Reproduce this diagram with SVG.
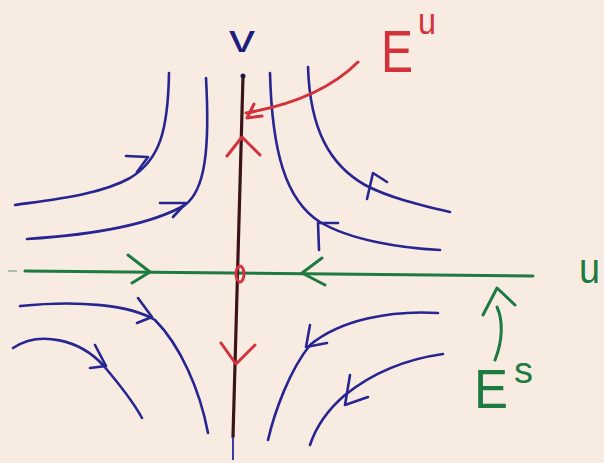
<svg xmlns="http://www.w3.org/2000/svg" width="604" height="463" viewBox="0 0 604 463">
<style>
.bl{fill:none;stroke:#272591;stroke-width:2.6;stroke-linecap:round;stroke-linejoin:round}
.rd{fill:none;stroke:#d3323c;stroke-width:3;stroke-linecap:round;stroke-linejoin:round}
.gr{fill:none;stroke:#1d7a40;stroke-width:3;stroke-linecap:round;stroke-linejoin:round}
.ax{fill:none;stroke:#3a1418;stroke-width:3.2;stroke-linecap:round}
.t{font-family:"Liberation Sans",Arial,sans-serif}
</style>
<rect width="604" height="463" fill="#f8ece2"/>
<g id="axes">
  <line class="gr" x1="25" y1="271" x2="533" y2="276"/>
  <line x1="8" y1="271" x2="17" y2="271" stroke="#1d7a40" stroke-width="1.5" opacity="0.5"/>
  <line class="ax" x1="243" y1="76" x2="233" y2="437"/>
  <line x1="233" y1="437" x2="233" y2="460" stroke="#3a3aa0" stroke-width="2"/>
  <circle cx="243" cy="76" r="2.5" fill="#1a1a40"/>
  <ellipse cx="240" cy="274" rx="4" ry="8" fill="none" stroke="#d3323c" stroke-width="3"/>
</g>
<g id="axis-arrows">
  <polyline class="rd" points="227,156 242,137 260,155"/>
  <polyline class="rd" points="221,343 236,364 255,345"/>
  <polyline class="gr" points="128,255 150,272 132,283"/>
  <polyline class="gr" points="322,258 302,273 325,285"/>
</g>
<g id="trajectories">
  <path class="bl" d="M169,73 C168,130 160,160 130,178 C100,195 50,200 15,205"/>
  <polyline class="bl" points="126,156 148,157 137,172"/>
  <path class="bl" d="M206,78 C210,150 205,190 185,205 C150,225 90,235 27,239"/>
  <polyline class="bl" points="160,203 186,203 173,217"/>
  <path class="bl" d="M270,73 C272,150 285,200 320,222 C350,240 400,248 440,250"/>
  <polyline class="bl" points="338,223 318,223 319,250"/>
  <path class="bl" d="M308,67 C310,130 330,165 365,185 C390,198 420,205 450,212"/>
  <polyline class="bl" points="387,182 373,173 367,199"/>
  <path class="bl" d="M20,306 C80,300 130,305 155,320 C180,345 200,390 208,433"/>
  <polyline class="bl" points="138,298 152,317 137,323"/>
  <path class="bl" d="M13,348 C40,330 80,340 103,365 C120,385 135,405 142,418"/>
  <polyline class="bl" points="95,345 106,366 90,368"/>
  <path class="bl" d="M438,313 C390,310 340,320 310,345 C290,370 275,410 268,440"/>
  <polyline class="bl" points="310,325 306,347 327,343"/>
  <path class="bl" d="M443,354 C400,360 370,375 345,395 C325,412 315,430 310,445"/>
  <polyline class="bl" points="350,375 345,405 368,397"/>
</g>
<g id="label-v">
  <text class="t" x="229" y="52" font-size="38" fill="#1e1c80" textLength="26" lengthAdjust="spacingAndGlyphs">v</text>
</g>
<g id="label-u">
  <text class="t" x="579" y="283" font-size="42" fill="#1d7a40" textLength="21" lengthAdjust="spacingAndGlyphs">u</text>
</g>
<g id="label-Eu">
  <path class="rd" d="M358,62 Q320,100 246,113"/>
  <polyline class="rd" points="254,104 247,118 262,116"/>
  <text class="t" x="381" y="72" font-size="60" fill="#d3323c" textLength="32" lengthAdjust="spacingAndGlyphs">E</text>
  <text class="t" x="418" y="34" font-size="36" fill="#d3323c" textLength="18" lengthAdjust="spacingAndGlyphs">u</text>
</g>
<g id="label-Es">
  <path class="gr" d="M495,360 C503,340 503,320 497,307"/>
  <polyline class="gr" points="483,315 497,288 515,305"/>
  <text class="t" x="474" y="408" font-size="56" fill="#1d7a40" textLength="34" lengthAdjust="spacingAndGlyphs">E</text>
  <text class="t" x="514" y="383" font-size="36" fill="#1d7a40" textLength="19" lengthAdjust="spacingAndGlyphs">s</text>
</g>
</svg>
